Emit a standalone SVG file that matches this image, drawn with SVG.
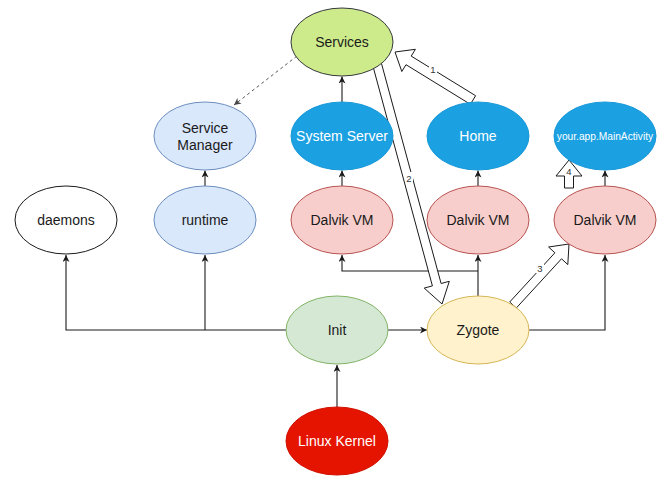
<svg xmlns="http://www.w3.org/2000/svg" width="665" height="483" viewBox="0 0 665 483">
<style>
text{font-family:"Liberation Sans",Arial,Helvetica,sans-serif;font-size:14px;text-anchor:middle;fill:#1a1a1a}
.w{fill:#ffffff}
.ln{fill:none;stroke:#1a1a1a;stroke-width:1.1}
.dash{fill:none;stroke:#555;stroke-width:1;stroke-dasharray:3 3}
.flex{fill:#ffffff;stroke:#1a1a1a;stroke-width:1}
.lbl{font-size:9.5px;fill:#333}
.green{fill:#cdeb8b;stroke:#36393d}
.blue{fill:#dae8fc;stroke:#6c8ebf}
.plain{fill:#ffffff;stroke:#1a1a1a}
.cyan{fill:#1ba1e2;stroke:#1a98d8}
.red{fill:#f8cecc;stroke:#b85450}
.initc{fill:#d5e8d4;stroke:#82b366}
.zyg{fill:#fff2cc;stroke:#d6b656}
.kern{fill:#e51400;stroke:#d01200}
</style>
<defs>
<marker id="arr" viewBox="0 0 10 10" refX="10" refY="5" markerWidth="7" markerHeight="7" orient="auto" markerUnits="userSpaceOnUse">
<path d="M0,0 L10,5 L0,10 L3,5 z" fill="#1a1a1a"/>
</marker>
<marker id="arrg" viewBox="0 0 10 10" refX="10" refY="5" markerWidth="7" markerHeight="7" orient="auto" markerUnits="userSpaceOnUse">
<path d="M0,0 L10,5 L0,10 L3,5 z" fill="#444"/>
</marker>
</defs>
<rect width="665" height="483" fill="#ffffff"/>
<g id="connectors">
<path class="ln" d="M286,330 H66 V255" marker-end="url(#arr)"/>
<path class="ln" d="M205,330 V255" marker-end="url(#arr)"/>
<path class="ln" d="M205,186 V170.5" marker-end="url(#arr)"/>
<path class="ln" d="M337,407 V365" marker-end="url(#arr)"/>
<path class="ln" d="M388,330 H427" marker-end="url(#arr)"/>
<path class="ln" d="M478,296 V255" marker-end="url(#arr)"/>
<path class="ln" d="M478,271 H342 V255" marker-end="url(#arr)"/>
<path class="ln" d="M529,330 H605 V255" marker-end="url(#arr)"/>
<path class="ln" d="M342,186 V170.5" marker-end="url(#arr)"/>
<path class="ln" d="M342,102 V76.5" marker-end="url(#arr)"/>
<path class="ln" d="M478,186 V170.5" marker-end="url(#arr)"/>
<path class="ln" d="M605,186 V170.5" marker-end="url(#arr)"/>
<path class="dash" d="M297,56 L234,105" marker-end="url(#arrg)"/>
<polygon class="flex" points="475.6,95.7 411.2,56.1 415.4,49.3 395,52 401.8,71.5 406,64.7 470.4,104.3"/>
<polygon class="flex" points="372.7,65.2 432.4,285.9 424.2,288.1 442,304 449.3,281.3 441.1,283.5 381.3,62.8"/>
<polygon class="flex" points="516.3,308 561.5,258.8 567.8,264.6 569,244 548.6,247 554.9,252.8 509.7,302"/>
<polygon class="flex" points="564.5,188 564.5,176 556,176 569,160 582,176 573.5,176 573.5,188"/>
<rect x="429" y="63" width="8" height="11" fill="#ffffff"/>
<text class="lbl" x="433" y="72.5">1</text>
<rect x="405" y="172" width="8" height="11" fill="#ffffff"/>
<text class="lbl" x="409" y="181.5">2</text>
<rect x="536" y="262" width="8" height="11" fill="#ffffff"/>
<text class="lbl" x="540" y="271.5">3</text>
<text class="lbl" x="569" y="174.5">4</text>
</g>
<g id="services"><ellipse class="green" cx="342" cy="42" rx="51" ry="34"/><text x="342" y="47">Services</text></g>
<g id="service-manager"><ellipse class="blue" cx="205" cy="136" rx="51" ry="34"/><text x="205" y="133">Service</text><text x="205" y="150">Manager</text></g>
<g id="system-server"><ellipse class="cyan" cx="342" cy="136" rx="51" ry="34"/><text class="w" x="342" y="141">System Server</text></g>
<g id="home"><ellipse class="cyan" cx="478" cy="136" rx="51" ry="34"/><text class="w" x="478" y="141">Home</text></g>
<g id="main-activity"><ellipse class="cyan" cx="605" cy="136" rx="51" ry="34"/><text class="w" x="605" y="139.5" style="font-size:10.2px">your.app.MainActivity</text></g>
<g id="daemons"><ellipse class="plain" cx="66" cy="220" rx="51" ry="34"/><text x="66" y="225">daemons</text></g>
<g id="runtime"><ellipse class="blue" cx="205" cy="220" rx="51" ry="34"/><text x="205" y="225">runtime</text></g>
<g id="dalvik-1"><ellipse class="red" cx="342" cy="220" rx="51" ry="34"/><text x="342" y="225">Dalvik VM</text></g>
<g id="dalvik-2"><ellipse class="red" cx="478" cy="220" rx="51" ry="34"/><text x="478" y="225">Dalvik VM</text></g>
<g id="dalvik-3"><ellipse class="red" cx="605" cy="220" rx="51" ry="34"/><text x="605" y="225">Dalvik VM</text></g>
<g id="init"><ellipse class="initc" cx="337" cy="330" rx="51" ry="34"/><text x="337" y="335">Init</text></g>
<g id="zygote"><ellipse class="zyg" cx="478" cy="330" rx="51" ry="34"/><text x="478" y="335">Zygote</text></g>
<g id="linux-kernel"><ellipse class="kern" cx="337" cy="441" rx="51" ry="34"/><text class="w" x="337" y="446">Linux Kernel</text></g>
</svg>
